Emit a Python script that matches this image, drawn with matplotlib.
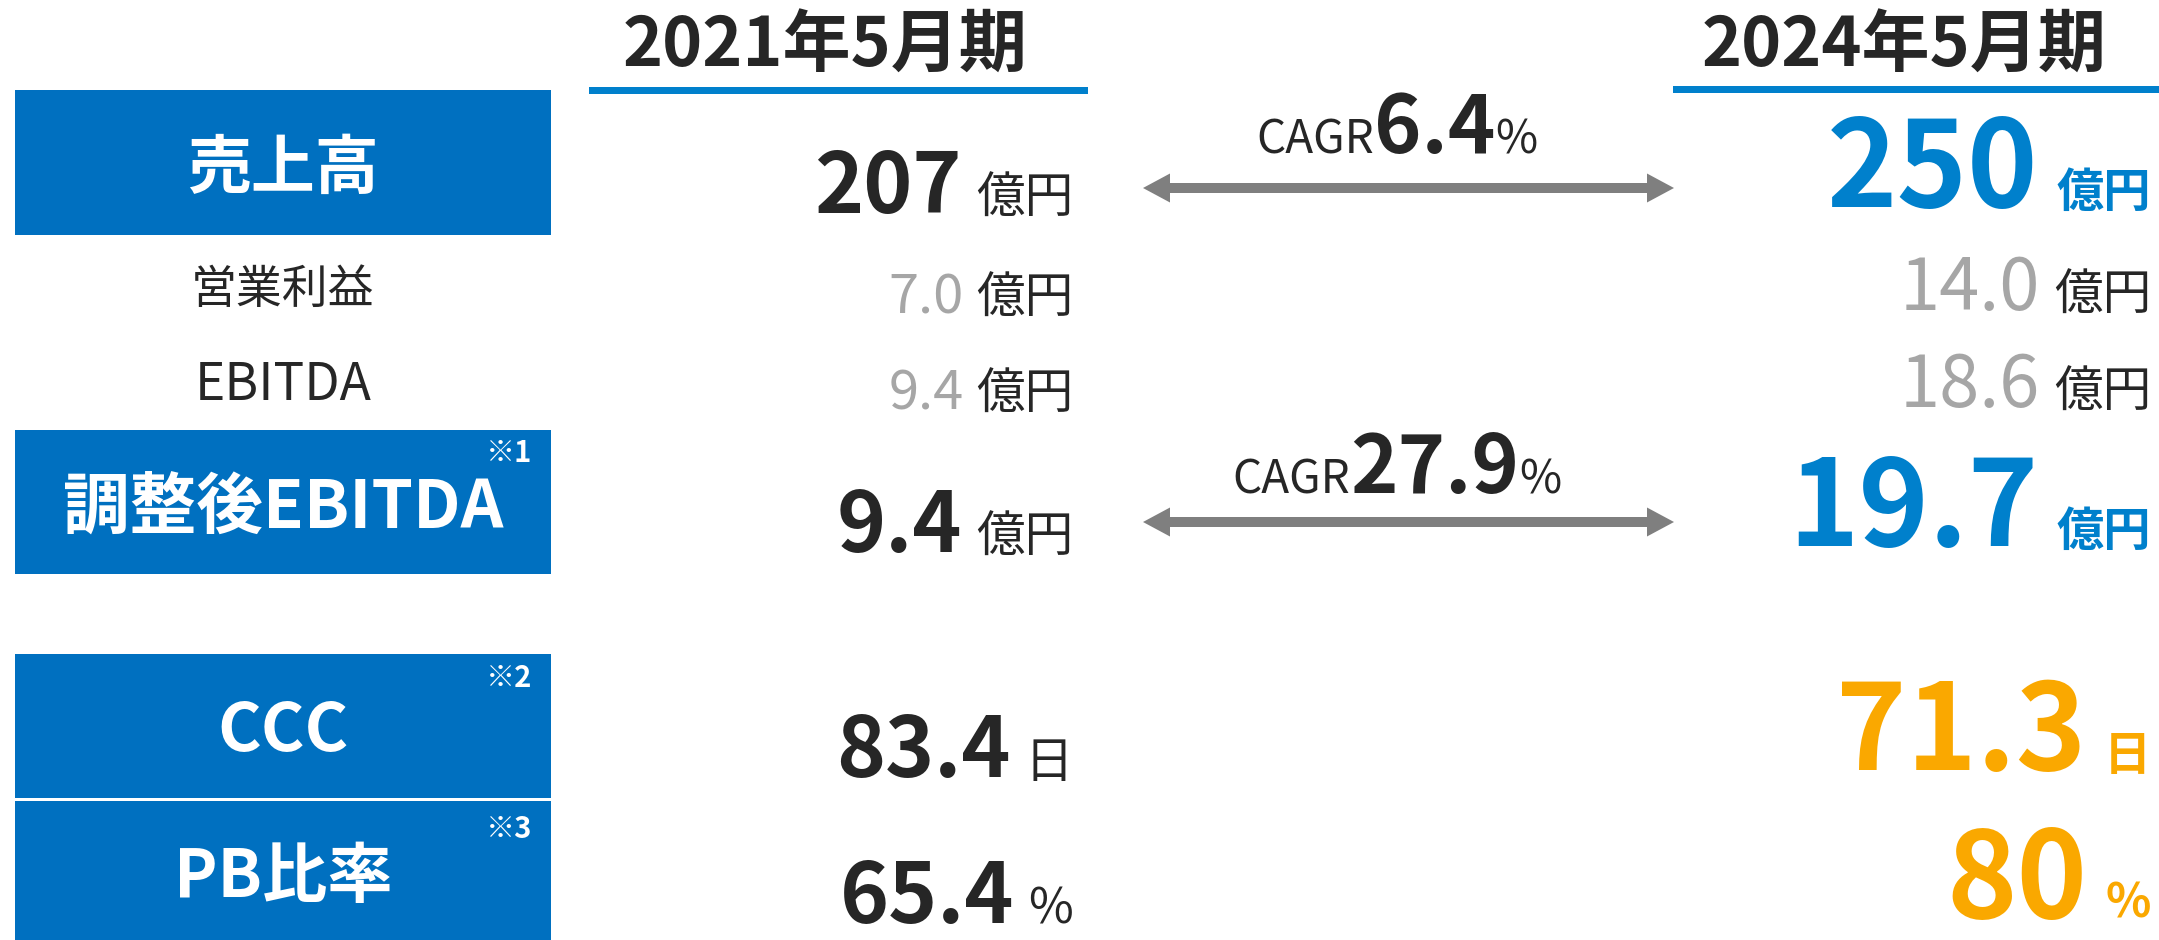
import matplotlib
matplotlib.use("Agg")
import matplotlib.pyplot as plt
from matplotlib.patches import Rectangle, Polygon

plt.rcParams["font.family"] = ["Noto Sans CJK JP", "DejaVu Sans"]

# data
periods = ["2021年5月期", "2024年5月期"]
categories = ["売上高", "営業利益", "EBITDA", "調整後EBITDA", "CCC", "PB比率"]
notes = ["", "", "", "※1", "※2", "※3"]
units = ["億円", "億円", "億円", "億円", "日", "%"]
values_2021 = [207, 7.0, 9.4, 9.4, 83.4, 65.4]
values_2024 = [250, 14.0, 18.6, 19.7, 71.3, 80]
decimals_2021 = [0, 1, 1, 1, 1, 1]
decimals_2024 = [0, 1, 1, 1, 1, 0]
cagr = [6.4, 27.9]
cagr_rows = [0, 3]

# colours
DARK = "#262626"
GRAY = "#A6A6A6"
BOX = "#0070C0"
LINE = "#0080CC"
BLUE = "#0080CC"
ORANGE = "#FAA800"
ARROW = "#7F7F7F"

# layout (pixels, y down)
boxed = [True, False, False, True, True, True]
box_top = [90, 0, 0, 430, 654, 801]
box_h = [145, 0, 0, 144, 144, 145]
label_y = [188, 303, 400, 528, 751, 897]
label_size = [46, 33, 37, 48, 48, 47]
note_y = [0, 0, 0, 462, 687, 838]
value_y_2021 = [213, 313, 409, 552, 777, 923]
value_y_2024 = [207, 310, 407, 546, 770, 918]
colors_2024 = [BLUE, GRAY, GRAY, BLUE, ORANGE, ORANGE]
arrow_y = [188, 522]
cagr_y = [153, 493]

W, H = 2159, 940
fig = plt.figure(figsize=(W / 100, H / 100), dpi=100)
ax = fig.add_axes([0, 0, 1, 1])
ax.set_xlim(0, W)
ax.set_ylim(H, 0)
ax.axis("off")
renderer = fig.canvas.get_renderer()


def right_pair(x_right, y, num, unit, num_kw, unit_kw, gap):
    u = ax.text(x_right, y, unit, ha="right", va="baseline", **unit_kw)
    bb = u.get_window_extent(renderer)
    ax.text(bb.x0 - gap, y, num, ha="right", va="baseline", **num_kw)


def cagr_label(cx, y, value):
    parts = [("CAGR", 33, "normal"), (f"{value:.1f}", 58, "bold"), ("%", 33, "normal")]
    texts = [ax.text(0, y, s, fontsize=fs, fontweight=fw, color=DARK,
                     ha="left", va="baseline") for s, fs, fw in parts]
    widths = [t.get_window_extent(renderer).width for t in texts]
    x = cx - sum(widths) / 2
    for t, w in zip(texts, widths):
        t.set_x(x)
        x += w


def double_arrow(x0, x1, y, shaft=10, head_w=29, head_l=27):
    s, h = shaft / 2, head_w / 2
    pts = [(x0, y), (x0 + head_l, y - h), (x0 + head_l, y - s),
           (x1 - head_l, y - s), (x1 - head_l, y - h), (x1, y),
           (x1 - head_l, y + h), (x1 - head_l, y + s),
           (x0 + head_l, y + s), (x0 + head_l, y + h)]
    ax.add_patch(Polygon(pts, closed=True, color=ARROW, lw=0))


# headers
ax.text(825, 67, periods[0], ha="center", va="baseline", fontsize=49,
        fontweight="bold", color=DARK)
ax.add_patch(Rectangle((589, 87), 499, 7, color=LINE, lw=0))
ax.text(1904, 67, periods[1], ha="center", va="baseline", fontsize=49,
        fontweight="bold", color=DARK)
ax.add_patch(Rectangle((1673, 86), 486, 7, color=LINE, lw=0))

for i, cat in enumerate(categories):
    if boxed[i]:
        ax.add_patch(Rectangle((15, box_top[i]), 536, box_h[i], color=BOX, lw=0))
        ax.text(283, label_y[i], cat, ha="center", va="baseline",
                fontsize=label_size[i], fontweight="bold", color="white")
        if notes[i]:
            ax.text(532, note_y[i], notes[i], ha="right", va="baseline",
                    fontsize=21, fontweight="bold", color="white")
    else:
        ax.text(283, label_y[i], cat, ha="center", va="baseline",
                fontsize=label_size[i], color=DARK)

    n1 = f"{values_2021[i]:.{decimals_2021[i]}f}"
    n2 = f"{values_2024[i]:.{decimals_2024[i]}f}"
    if boxed[i]:
        right_pair(1073, value_y_2021[i], n1, units[i],
                   dict(fontsize=60, fontweight="bold", color=DARK),
                   dict(fontsize=35, color=DARK), 14)
        right_pair(2151, value_y_2024[i], n2, units[i],
                   dict(fontsize=86, fontweight="bold", color=colors_2024[i]),
                   dict(fontsize=34, fontweight="bold", color=colors_2024[i]), 18)
    else:
        right_pair(1073, value_y_2021[i], n1, units[i],
                   dict(fontsize=39, color=GRAY),
                   dict(fontsize=35, color=DARK), 12)
        right_pair(2151, value_y_2024[i], n2, units[i],
                   dict(fontsize=52, color=GRAY),
                   dict(fontsize=35, color=DARK), 14)

# CAGR arrows
for k, row in enumerate(cagr_rows):
    double_arrow(1143, 1674, arrow_y[k])
    cagr_label(1397, cagr_y[k], cagr[k])

fig.savefig("out.png", dpi=100)
